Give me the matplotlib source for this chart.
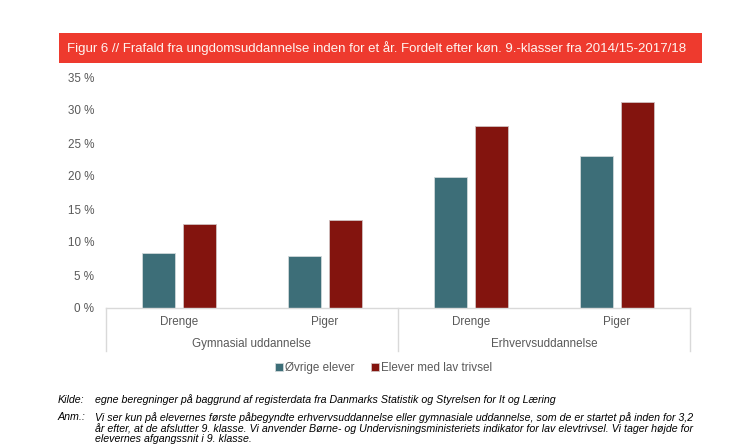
import matplotlib
matplotlib.use("Agg")
import matplotlib.pyplot as plt
import matplotlib.patches as mpatches
import numpy as np

plt.rcParams['font.family'] = ['Liberation Sans', 'DejaVu Sans']

# Data
groups = ["Gymnasial uddannelse", "Erhvervsuddannelse"]
genders = ["Drenge", "Piger", "Drenge", "Piger"]
ovrige = [8.4, 7.9, 19.9, 23.0]
lav_trivsel = [12.8, 13.4, 27.6, 31.2]
series_names = ["Øvrige elever", "Elever med lav trivsel"]
yticks = [0, 5, 10, 15, 20, 25, 30, 35]

title = "Figur 6 // Frafald fra ungdomsuddannelse inden for et år. Fordelt efter køn. 9.-klasser fra 2014/15-2017/18"
kilde = "egne beregninger på baggrund af registerdata fra Danmarks Statistik og Styrelsen for It og Læring"
anm_lines = [
    "Vi ser kun på elevernes første påbegyndte erhvervsuddannelse eller gymnasiale uddannelse, som de er startet på inden for 3,2",
    "år efter, at de afslutter 9. klasse. Vi anvender Børne- og Undervisningsministeriets indikator for lav elevtrivsel. Vi tager højde for",
    "elevernes afgangssnit i 9. klasse.",
]

blue = "#3d6e78"
red = "#83140e"
grey_text = "#595959"
line_col = "#d9d9d9"

W, H = 744, 447
fig = plt.figure(figsize=(W / 100, H / 100), dpi=100)

# Title banner
fig.patches.append(mpatches.Rectangle((59 / W, 1 - 63 / H), (702 - 59) / W, 30 / H,
                                      transform=fig.transFigure, facecolor="#ee3a2e",
                                      edgecolor="none", zorder=0))
fig.text(67 / W, 1 - 48 / H, title, color="#fff4f0", fontsize=9.5, va="center", ha="left")

ax = fig.add_axes([106 / W, 1 - 308 / H, (690 - 106) / W, (308 - 77) / H])

x = np.arange(len(genders))
w = 0.225
off = 0.142
ax.bar(x - off, ovrige, w, color=blue, edgecolor="#d0d8da", linewidth=0.6, label=series_names[0])
ax.bar(x + off, lav_trivsel, w, color=red, edgecolor="#d0c0c0", linewidth=0.6, label=series_names[1])

ax.set_xlim(-0.5, len(genders) - 0.5)
ax.set_ylim(0, 35)
ax.set_yticks(yticks)
ax.set_yticklabels([f"{t} %" for t in yticks], color=grey_text, fontsize=8.4)
ax.tick_params(axis="y", length=0, pad=8.5)
ax.set_xticks([])
for s in ["top", "right", "left"]:
    ax.spines[s].set_visible(False)
ax.spines["bottom"].set_color(line_col)
ax.spines["bottom"].set_linewidth(1.0)

# Category labels and group labels below axis
trans = ax.get_xaxis_transform()
depth = (351 - 308) / (308 - 77)
for i, g in enumerate(genders):
    ax.text(i, -(322 - 308) / (308 - 77), g, transform=trans, ha="center", va="center",
            fontsize=8.4, color=grey_text)
for j, grp in enumerate(groups):
    ax.text(2 * j + 0.5, -(344 - 308) / (308 - 77), grp, transform=trans, ha="center",
            va="center", fontsize=8.4, color=grey_text)
for xs in [-0.5, 1.5, 3.5]:
    ax.plot([xs, xs], [0, -depth], transform=trans, color=line_col, linewidth=1.0,
            clip_on=False)

# Legend
fig.legend(loc="center", bbox_to_anchor=(383.5 / W, 1 - 368 / H), ncol=2, frameon=False,
           fontsize=8.4, handlelength=0.7, handleheight=0.7, handletextpad=0.2,
           columnspacing=1.4, labelcolor=grey_text)

# Footer notes
fs = 7.7
fig.text(58 / W, 1 - 400 / H, "Kilde:", fontsize=fs, style="italic", va="center")
fig.text(95 / W, 1 - 400 / H, kilde, fontsize=fs, style="italic", va="center")
fig.text(58 / W, 1 - 417.5 / H, "Anm.:", fontsize=fs, style="italic", va="center")
for k, ln in enumerate(anm_lines):
    fig.text(95 / W, 1 - (417.5 + 10.7 * k) / H, ln, fontsize=fs, style="italic", va="center")

fig.savefig("out.png", dpi=100)
